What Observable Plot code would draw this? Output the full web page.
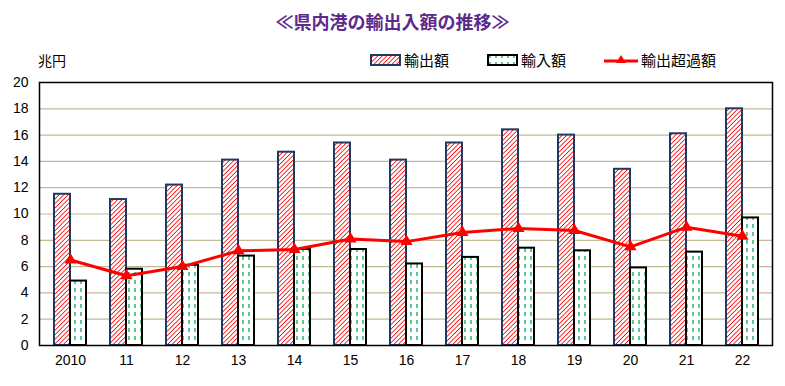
<!DOCTYPE html>
<html><head><meta charset="utf-8">
<script src="https://cdn.jsdelivr.net/npm/d3@7"></script>
<script src="https://cdn.jsdelivr.net/npm/@observablehq/plot@0.6"></script>
<style>
body{margin:0;background:#fff;font-family:"Noto Sans CJK JP",sans-serif;}
#wrap{position:relative;width:785px;height:386px;}
#title{position:absolute;left:0;width:785px;top:8px;text-align:center;color:#5b2a8c;font-weight:bold;font-size:18px;}
#unit{position:absolute;left:38px;top:50px;font-size:14px;}
.leg{position:absolute;top:49px;font-size:15px;display:flex;align-items:center;}
.leg svg{margin-right:3px;}
</style></head>
<body>
<svg width="0" height="0" style="position:absolute">
<defs>
<pattern id="hatch" patternUnits="userSpaceOnUse" width="3.2" height="3.2" patternTransform="rotate(45)">
<rect width="3.2" height="3.2" fill="#fff"/><line x1="0" y1="0" x2="0" y2="3.2" stroke="#ff0000" stroke-width="1.6"/>
</pattern>
<pattern id="dash" patternUnits="userSpaceOnUse" width="6" height="8">
<rect width="6" height="8" fill="#fff"/>
<line x1="3" y1="0" x2="3" y2="4" stroke="#00b050" stroke-width="1.3"/>
</pattern>
</defs></svg>
<div id="wrap">
<div id="title">≪県内港の輸出入額の推移≫</div>
<div id="unit">兆円</div>
<div class="leg" style="left:370px"><svg width="31" height="12"><rect x="1" y="1" width="29" height="10" fill="url(#hatch)" stroke="#1f3a60" stroke-width="2"/></svg>輸出額</div>
<div class="leg" style="left:487px"><svg width="31" height="12"><rect x="1" y="1" width="29" height="10" fill="url(#dash)" stroke="#000" stroke-width="2"/></svg>輸入額</div>
<div class="leg" style="left:604px"><svg width="34" height="12"><line x1="0" y1="7" x2="34" y2="7" stroke="#ff0000" stroke-width="3"/><path d="M17,1 L22,9 L12,9 Z" fill="#ff0000"/></svg>輸出超過額</div>
</div>
<script>
const years = ["2010","11","12","13","14","15","16","17","18","19","20","21","22"];
const exports_ = [11.5,11.1,12.2,14.1,14.7,15.4,14.1,15.4,16.4,16.0,13.4,16.1,18.0];
const imports_ = [4.9,5.8,6.1,6.8,7.3,7.3,6.2,6.7,7.4,7.2,5.9,7.1,9.7];
const surplus = [6.5,5.3,6.0,7.2,7.3,8.1,7.9,8.6,8.9,8.75,7.5,9.0,8.3];
const yTicks = [0,2,4,6,8,10,12,14,16,18,20];

const exp = years.map((y,i)=>({year:y, v:exports_[i]}));
const imp = years.map((y,i)=>({year:y, v:imports_[i]}));
const sur = years.map((y,i)=>({year:y, v:surplus[i]}));

const chart = Plot.plot({
  width:785, height:386,
  marginLeft:39, marginRight:13, marginTop:82, marginBottom:41,
  style:{fontFamily:"'Liberation Sans', sans-serif", fontSize:"13px", color:"#000", background:"transparent"},
  x:{type:"band", domain:years, paddingInner:0.43, paddingOuter:0.215, label:null},
  y:{domain:[0,20], label:null},
  marks:[
    Plot.ruleY(yTicks.filter(d=>d>0 && d<20), {stroke:"#c2b996", strokeWidth:1.2}),
    Plot.axisY({ticks:yTicks, tickSize:0, tickPadding:11, tickFormat:d=>d, fontSize:14}),
    Plot.axisX({tickSize:0, tickPadding:10, fontSize:14}),
    Plot.barY(exp, {x:"year", y:"v", fill:"url(#hatch)", stroke:"#1f3a60", strokeWidth:2, insetRight:16}),
    Plot.barY(imp, {x:"year", y:"v", fill:"url(#dash)", stroke:"#000", strokeWidth:2, insetLeft:16}),
    Plot.frame({stroke:"#000", strokeWidth:1.5}),
    Plot.line(sur, {x:"year", y:"v", stroke:"#ff0000", strokeWidth:3}),
    Plot.dot(sur, {x:"year", y:"v", symbol:"triangle", r:4.5, fill:"#ff0000", stroke:"none"})
  ]
});
chart.style.position="absolute";
chart.style.left="0"; chart.style.top="0";
document.getElementById("wrap").prepend(chart);
</script>
</body></html>
